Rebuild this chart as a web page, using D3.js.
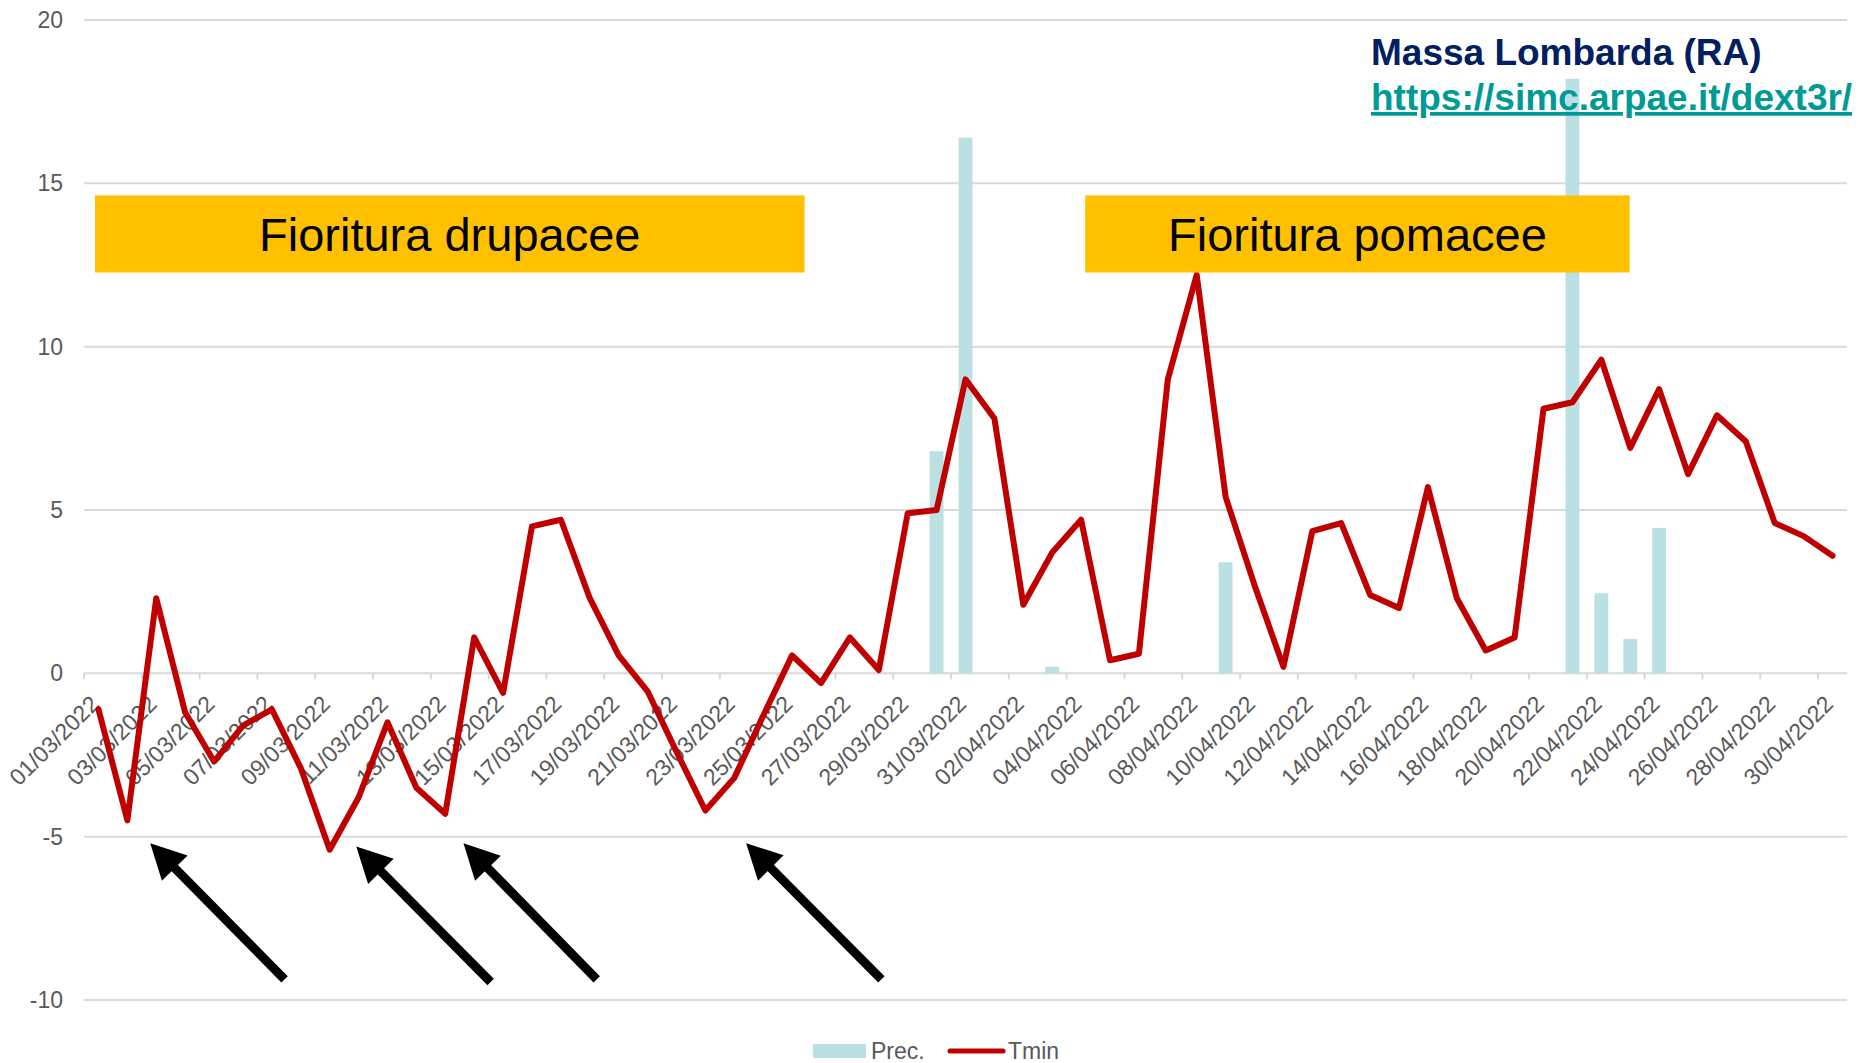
<!DOCTYPE html>
<html>
<head>
<meta charset="utf-8">
<script src="https://cdn.jsdelivr.net/npm/d3@7"></script>
<style>
  html, body { margin: 0; padding: 0; background: #ffffff; }
  svg { display: block; font-family: "Liberation Sans", Arial, Helvetica, sans-serif; }
</style>
</head>
<body>
<svg id="chart" width="1862" height="1063"></svg>
<script>
// ---------------- DATA ----------------
const dates = [
  "01/03/2022","02/03/2022","03/03/2022","04/03/2022","05/03/2022","06/03/2022","07/03/2022","08/03/2022",
  "09/03/2022","10/03/2022","11/03/2022","12/03/2022","13/03/2022","14/03/2022","15/03/2022","16/03/2022",
  "17/03/2022","18/03/2022","19/03/2022","20/03/2022","21/03/2022","22/03/2022","23/03/2022","24/03/2022",
  "25/03/2022","26/03/2022","27/03/2022","28/03/2022","29/03/2022","30/03/2022","31/03/2022",
  "01/04/2022","02/04/2022","03/04/2022","04/04/2022","05/04/2022","06/04/2022","07/04/2022","08/04/2022",
  "09/04/2022","10/04/2022","11/04/2022","12/04/2022","13/04/2022","14/04/2022","15/04/2022","16/04/2022",
  "17/04/2022","18/04/2022","19/04/2022","20/04/2022","21/04/2022","22/04/2022","23/04/2022","24/04/2022",
  "25/04/2022","26/04/2022","27/04/2022","28/04/2022","29/04/2022","30/04/2022"
];

const tmin = [
  -1.1, -4.5, 2.3, -1.2, -2.7, -1.6, -1.1, -2.9, -5.4, -3.8,
  -1.5, -3.5, -4.3, 1.1, -0.6, 4.5, 4.7, 2.3, 0.55, -0.55,
  -2.4, -4.2, -3.2, -1.3, 0.55, -0.3, 1.1, 0.1, 4.9, 5.0,
  9.0, 7.8, 2.1, 3.7, 4.7, 0.4, 0.6, 9.0, 12.2, 5.4,
  2.7, 0.2, 4.35, 4.6, 2.4, 2.0, 5.7, 2.3, 0.7, 1.1,
  8.1, 8.3, 9.6, 6.9, 8.7, 6.1, 7.9, 7.1, 4.6, 4.2,
  3.6
];

const prec = [
  0, 0, 0, 0, 0, 0, 0, 0, 0, 0,
  0, 0, 0, 0, 0, 0, 0, 0, 0, 0,
  0, 0, 0, 0, 0, 0, 0, 0, 0, 6.8,
  16.4, 0, 0, 0.2, 0, 0, 0, 0, 0, 3.4,
  0, 0, 0, 0, 0, 0, 0, 0, 0, 0,
  0, 18.2, 2.45, 1.05, 4.45, 0, 0, 0, 0, 0,
  0
];

const yTickValues = [-10, -5, 0, 5, 10, 15, 20];
const xTickLabels = [
  "01/03/2022","03/03/2022","05/03/2022","07/03/2022","09/03/2022","11/03/2022","13/03/2022","15/03/2022",
  "17/03/2022","19/03/2022","21/03/2022","23/03/2022","25/03/2022","27/03/2022","29/03/2022","31/03/2022",
  "02/04/2022","04/04/2022","06/04/2022","08/04/2022","10/04/2022","12/04/2022","14/04/2022","16/04/2022",
  "18/04/2022","20/04/2022","22/04/2022","24/04/2022","26/04/2022","28/04/2022","30/04/2022"
];
const seriesNames = ["Prec.", "Tmin"];

// Annotations (positions in chart units: band index, value)
const bloomBoxes = [
  { label: "Fioritura drupacee", u0: 0.38, u1: 24.93, v0: 14.63, v1: 12.27 },
  { label: "Fioritura pomacee",  u0: 34.64, u1: 53.48, v0: 14.63, v1: 12.27 }
];
const frostArrows = [
  { tipU: 2.29,  tipV: -5.2, tailU: 6.94,  tailV: -9.37 },
  { tipU: 9.42,  tipV: -5.3, tailU: 14.07, tailV: -9.45 },
  { tipU: 13.13, tipV: -5.2, tailU: 17.74, tailV: -9.37 },
  { tipU: 22.91, tipV: -5.2, tailU: 27.59, tailV: -9.37 }
];
const titleText = "Massa Lombarda (RA)";
const linkText = "https://simc.arpae.it/dext3r/";

// ---------------- LAYOUT ----------------
const plotLeft = 84, plotRight = 1847;
const yTopPx = 20, yBottomPx = 1000;

const colors = {
  bar: "#BBE0E3",
  line: "#C00000",
  grid: "#D9D9D9",
  axisText: "#595959",
  box: "#FFC000",
  title: "#002060",
  link: "#009A96"
};

const svg = d3.select("#chart");

const y = d3.scaleLinear().domain([-10, 20]).range([yBottomPx, yTopPx]);
const xStep = d3.scaleBand().domain(dates).range([plotLeft, plotRight]).padding(0);
const xBar = d3.scaleBand().domain(dates).range([plotLeft, plotRight]).paddingInner(0.52).paddingOuter(0.26);
const u = d3.scaleLinear().domain([0, dates.length]).range([plotLeft, plotRight]);
const xc = d => xStep(d) + xStep.bandwidth() / 2;

// Gridlines
svg.append("g").selectAll("line").data(yTickValues).join("line")
  .attr("x1", plotLeft).attr("x2", plotRight)
  .attr("y1", d => y(d)).attr("y2", d => y(d))
  .attr("stroke", colors.grid).attr("stroke-width", 2);

// Category tick marks on zero line (every 2 categories, at band boundaries)
const tickBounds = dates.filter((d, i) => i % 2 === 0);
svg.append("g").selectAll("line").data(tickBounds).join("line")
  .attr("x1", d => xStep(d)).attr("x2", d => xStep(d))
  .attr("y1", y(0)).attr("y2", y(0) + 6)
  .attr("stroke", colors.grid).attr("stroke-width", 2);

// Y axis labels
const yAxis = d3.axisLeft(y).tickValues(yTickValues).tickSize(0).tickPadding(0).tickFormat(d => String(d));
const gy = svg.append("g").attr("transform", `translate(63,0)`).call(yAxis);
gy.select(".domain").remove();
gy.selectAll("text").attr("font-size", 23).attr("fill", colors.axisText)
  .attr("font-family", "Liberation Sans, Arial, sans-serif");

// Bars (precipitation)
svg.append("g").selectAll("rect").data(dates.map((d, i) => ({ d, v: prec[i] })).filter(o => o.v > 0)).join("rect")
  .attr("x", o => xBar(o.d))
  .attr("width", xBar.bandwidth())
  .attr("y", o => y(o.v))
  .attr("height", o => y(0) - y(o.v))
  .attr("fill", colors.bar);

// X axis labels (rotated)
const xAxis = d3.axisBottom(xStep).tickValues(xTickLabels).tickSize(0).tickPadding(0);
const gx = svg.append("g").attr("transform", `translate(0,${y(0)})`).call(xAxis);
gx.select(".domain").remove();
gx.selectAll("text")
  .attr("font-size", 23).attr("fill", colors.axisText)
  .attr("font-family", "Liberation Sans, Arial, sans-serif")
  .attr("text-anchor", "end")
  .attr("dy", null).attr("y", null)
  .attr("transform", "translate(2,32) rotate(-45)");

// Tmin line
const lineGen = d3.line().x((v, i) => xc(dates[i])).y(v => y(v));
svg.append("path").datum(tmin)
  .attr("d", lineGen)
  .attr("fill", "none")
  .attr("stroke", colors.line)
  .attr("stroke-width", 6)
  .attr("stroke-linejoin", "round")
  .attr("stroke-linecap", "round");

// Bloom boxes
const gb = svg.append("g");
bloomBoxes.forEach(b => {
  const x0 = u(b.u0), x1 = u(b.u1), y0 = y(b.v0), y1 = y(b.v1);
  gb.append("rect").attr("x", x0).attr("y", y0).attr("width", x1 - x0).attr("height", y1 - y0)
    .attr("fill", colors.box);
  gb.append("text").attr("x", (x0 + x1) / 2).attr("y", y0 + 56)
    .attr("text-anchor", "middle").attr("font-size", 47).attr("fill", "#000")
    .text(b.label);
});

// Frost arrows
const ga = svg.append("g");
frostArrows.forEach(a => {
  const tx = u(a.tipU), ty = y(a.tipV), sx = u(a.tailU), sy = y(a.tailV);
  const len = Math.hypot(sx - tx, sy - ty);
  const ux = (sx - tx) / len, uy = (sy - ty) / len; // from tip to tail
  const headLen = 35, headHalf = 18;
  const bx = tx + ux * headLen, by = ty + uy * headLen;
  ga.append("line").attr("x1", sx).attr("y1", sy).attr("x2", bx - ux * 2).attr("y2", by - uy * 2)
    .attr("stroke", "#000").attr("stroke-width", 9);
  const px = -uy, py = ux;
  ga.append("path")
    .attr("d", `M${tx},${ty} L${bx + px * headHalf},${by + py * headHalf} L${bx - px * headHalf},${by - py * headHalf} Z`)
    .attr("fill", "#000");
});

// Title and link
svg.append("text").attr("x", 1371).attr("y", 65)
  .attr("font-size", 37).attr("font-weight", "bold").attr("fill", colors.title)
  .text(titleText);
svg.append("text").attr("x", 1371).attr("y", 110)
  .attr("font-size", 37).attr("font-weight", "bold").attr("fill", colors.link)
  .attr("text-decoration", "underline")
  .text(linkText);

// Legend
const lg = svg.append("g").attr("transform", "translate(0,1051)");
lg.append("rect").attr("x", 813).attr("y", -7).attr("width", 53).attr("height", 14).attr("fill", colors.bar);
lg.append("text").attr("x", 871).attr("y", 8).attr("font-size", 23).attr("fill", colors.axisText).text(seriesNames[0]);
lg.append("line").attr("x1", 950).attr("x2", 1003).attr("y1", 0).attr("y2", 0)
  .attr("stroke", colors.line).attr("stroke-width", 5).attr("stroke-linecap", "round");
lg.append("text").attr("x", 1008).attr("y", 8).attr("font-size", 23).attr("fill", colors.axisText).text(seriesNames[1]);
</script>
</body>
</html>
